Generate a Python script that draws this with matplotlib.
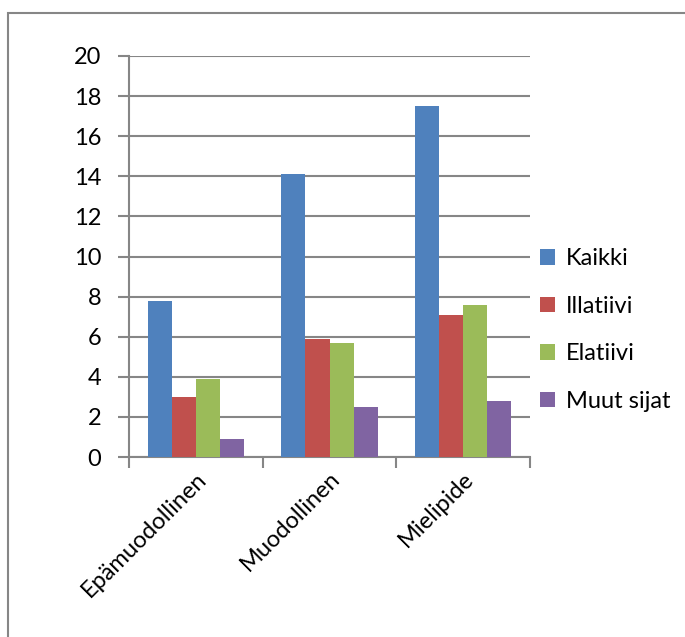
import matplotlib
matplotlib.use("Agg")
import matplotlib.pyplot as plt
import numpy as np
from matplotlib.patches import Rectangle, Patch

categories = ["Epämuodollinen", "Muodollinen", "Mielipide"]
series_names = ["Kaikki", "Illatiivi", "Elatiivi", "Muut sijat"]
kaikki = [7.8, 14.1, 17.5]
illatiivi = [3.0, 5.9, 7.1]
elatiivi = [3.9, 5.7, 7.6]
muut = [0.9, 2.5, 2.8]
colors = ["#4F81BD", "#C0504D", "#9BBB59", "#8064A2"]
yticks = [0, 2, 4, 6, 8, 10, 12, 14, 16, 18, 20]

plt.rcParams['font.family'] = ['Lato', 'DejaVu Sans']
FS = 17
W, H = 685, 637
fig = plt.figure(figsize=(W / 100, H / 100), dpi=100)
ax = fig.add_axes([129 / W, 1 - 457 / H, (530 - 129) / W, (457 - 56) / H])

x = np.arange(len(categories))
bw = 0.18
series = [kaikki, illatiivi, elatiivi, muut]
for i, (vals, c) in enumerate(zip(series, colors)):
    ax.bar(x + (i - 1.5) * bw, vals, width=bw, color=c, zorder=3, label=series_names[i])

ax.set_xlim(-0.5, 2.5)
ax.set_ylim(0, 20)
ax.set_yticks(yticks)
ax.set_yticklabels([str(t) for t in yticks], fontsize=FS)
ax.yaxis.grid(True, color="#868686", linewidth=1.5, zorder=0)
ax.set_axisbelow(True)
for s in ["top", "right"]:
    ax.spines[s].set_visible(False)
for s in ["left", "bottom"]:
    ax.spines[s].set_color("#868686")
    ax.spines[s].set_linewidth(1.5)
ax.tick_params(axis='y', length=8, width=1.5, color="#868686", pad=12)
ax.set_xticks([-0.5, 0.5, 1.5, 2.5], minor=False)
ax.set_xticklabels([])
ax.tick_params(axis='x', which='major', length=8, width=1.5, color="#868686")
ax.set_xticks(x, minor=True)
ax.set_xticklabels(categories, minor=True, rotation=45, ha='right', va='top',
                   rotation_mode='anchor', fontsize=FS)
ax.tick_params(axis='x', which='minor', length=0, pad=8)

handles = [Patch(facecolor=c, edgecolor='none') for c in colors]
fig.legend(handles, series_names, loc='upper left', bbox_to_anchor=(531 / W, 1 - 239 / H),
           frameon=False, fontsize=FS, handlelength=0.62, handleheight=0.62,
           handletextpad=0.45, labelspacing=1.12, borderaxespad=0)

fig.patches.append(Rectangle((8 / W, -0.5), 2, 1.5 - 13 / H, transform=fig.transFigure,
                             fill=False, edgecolor="#868686", linewidth=1.5))

fig.savefig("out.png", dpi=100, facecolor="white")
